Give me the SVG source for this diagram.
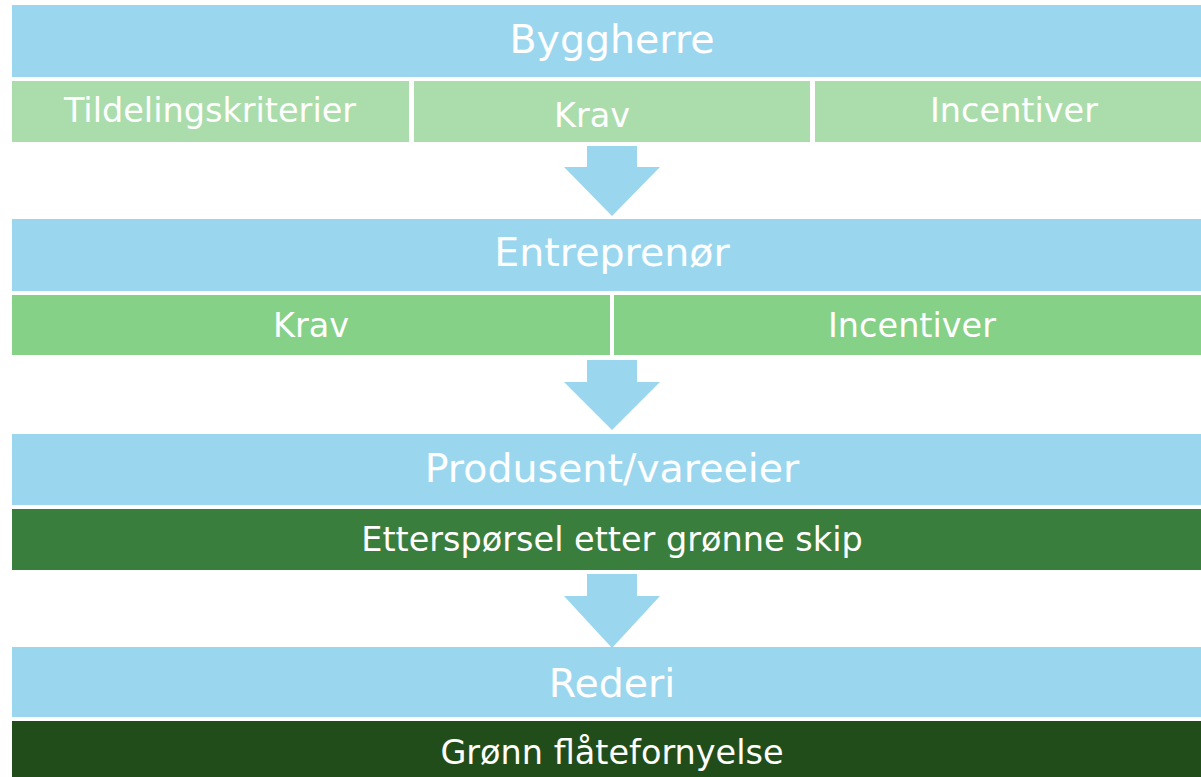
<svg xmlns="http://www.w3.org/2000/svg" width="1201" height="777" viewBox="0 0 1201 777">
<style>
.bg{fill:#ffffff}
.blue{fill:#9AD7EF}
.lg{fill:#AADDAB}
.mg{fill:#84D187}
.dg{fill:#3A7E3E}
.ddg{fill:#214D1A}
.arrow{fill:#9AD7EF}
text{font-family:"DejaVu Sans","Verdana",sans-serif;fill:#ffffff;text-anchor:middle}
.h{font-size:39.5px}
.s{font-size:33.5px}
</style>
<rect class="bg" x="0" y="0" width="1201" height="777"/>
<g id="byggherre"><rect class="blue" x="12" y="5" width="1189" height="72"/><text class="h" x="612" y="53">Byggherre</text></g>
<g id="tildelingskriterier"><rect class="lg" x="12" y="81" width="397" height="61"/><text class="s" x="210" y="122">Tildelingskriterier</text></g>
<g id="krav1"><rect class="lg" x="414" y="81" width="396" height="61"/><text class="s" x="592" y="127">Krav</text></g>
<g id="incentiver1"><rect class="lg" x="815" y="81" width="386" height="61"/><text class="s" x="1014" y="122">Incentiver</text></g>
<g id="entreprenor"><rect class="blue" x="12" y="219" width="1189" height="72"/><text class="h" x="612" y="266">Entreprenør</text></g>
<g id="krav2"><rect class="mg" x="12" y="295" width="598" height="60"/><text class="s" x="311" y="337">Krav</text></g>
<g id="incentiver2"><rect class="mg" x="614" y="295" width="587" height="60"/><text class="s" x="912" y="337">Incentiver</text></g>
<g id="produsent"><rect class="blue" x="12" y="434" width="1189" height="71"/><text class="h" x="612" y="482">Produsent/vareeier</text></g>
<g id="ettersporsel"><rect class="dg" x="12" y="509" width="1189" height="61"/><text class="s" x="612" y="551">Etterspørsel etter grønne skip</text></g>
<g id="rederi"><rect class="blue" x="12" y="647" width="1189" height="70"/><text class="h" x="612" y="697">Rederi</text></g>
<g id="flatefornyelse"><rect class="ddg" x="12" y="721" width="1189" height="56"/><text class="s" x="612" y="764">Grønn flåtefornyelse</text></g>
<g id="connectors">
<polygon class="arrow" points="587,146 637,146 637,167 660,167 612,216 564,167 587,167"/>
<polygon class="arrow" points="587,360 637,360 637,382 660,382 612,430 564,382 587,382"/>
<polygon class="arrow" points="587,574 637,574 637,596 660,596 612,648 564,596 587,596"/>
</g>
</svg>
